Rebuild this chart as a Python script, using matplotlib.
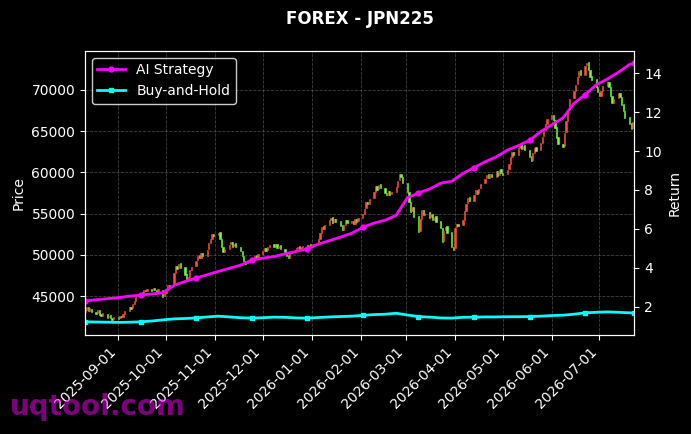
import numpy as np
import pandas as pd
import matplotlib
matplotlib.use("Agg")
import matplotlib.pyplot as plt
import matplotlib.dates as mdates

# daily candles (business days from 2025-08-11)
opens = [
    # Aug
    43050, 43300, 43650, 43200, 43480, 43100, 42950, 43250, 42800, 42580, 42850, 42400, 42650, 42350, 42200,
    # Sep
    42450, 42280, 42600, 42450, 42880, 43220, 43660, 43520, 44080, 44400, 44950, 45460, 45300, 45780, 45620,
    45860, 45680, 45950, 45740, 45500, 45780, 44950,
    # Oct
    45400, 45850, 46350, 46300, 47850, 48650, 48350, 48950, 48500, 47650, 46950, 47350, 48150, 48600, 49350,
    49950, 49650, 50250, 49850, 50650, 51450, 51950, 52550,
    # Nov
    52350, 52750, 51950, 50950, 50350, 50750, 51250, 51550, 51050, 51400, 50950, 50450, 49850, 49250, 48950,
    49350, 49150, 49650, 49950, 49550,
    # Dec
    50150, 50450, 50850, 50550, 50950, 51250, 51050, 51350, 50850, 51150, 50750, 50350, 49950, 49650, 50250,
    50550, 50850, 51050, 50750, 50950, 51150, 50950, 51250,
    # Jan
    51000, 51150, 51350, 51950, 52650, 53450, 53150, 53650, 54250, 54550, 53950, 54350, 54050, 53550, 53050,
    53650, 54250, 53850, 54150, 53750, 54350, 54050,
    # Feb
    54450, 54950, 55650, 56450, 56150, 56850, 57650, 58350, 57950, 58550, 58150, 57550, 57250, 57750, 57350,
    57650, 58250, 59050, 59850, 59450,
    # Mar
    58650, 57650, 56450, 55250, 55850, 54650, 52850, 54350, 55450, 54850, 55150, 54550, 54950, 54250, 54650,
    54050, 53250, 51650, 52950, 53450, 52750, 50950,
    # Apr
    50800, 53350, 53750, 53550, 54250, 55350, 56250, 56950, 56550, 57350, 57850, 57450, 58050, 58650, 59250,
    59750, 59350, 59850, 59450, 60150, 59650, 60350,
    # May
    59950, 59750, 60350, 61050, 61850, 62450, 62150, 62950, 63450, 62850, 63250, 62750, 61950, 61450, 62350,
    63050, 62650, 63550, 64350, 65150, 65850,
    # Jun
    66450, 66950, 66350, 65450, 64250, 63450, 63150, 64850, 66250, 67650, 68950, 69850, 70650, 71550, 72350,
    71850, 72950, 73350, 72450, 71650, 71250, 70350,
    # Jul
    69750, 69250, 69850, 70450, 70950, 70350, 69250, 68450, 68950, 69650, 69150, 68250, 67450, 66650, 65950,
    65350, 66150,
]
closes = [
    # Aug
    43350, 43720, 43180, 43560, 43040, 42880, 43310, 42760, 42550, 42900, 42380, 42620, 42310, 42150, 42480,
    # Sep
    42240, 42580, 42420, 42850, 43180, 43620, 43480, 44050, 44380, 44900, 45420, 45280, 45750, 45600, 45880,
    45650, 45930, 45720, 45480, 45810, 44900, 45350,
    # Oct
    45800, 46300, 46150, 47800, 48600, 48300, 48900, 48450, 47600, 46900, 47300, 48100, 48500, 49300, 49900,
    49600, 50200, 49800, 50600, 51400, 51900, 52500, 52300,
    # Nov
    52700, 51900, 50900, 50300, 50700, 51200, 51500, 51000, 51350, 50900, 50400, 49800, 49200, 48900, 49300,
    49100, 49600, 49900, 49500, 50100,
    # Dec
    50400, 50800, 50500, 50900, 51200, 51000, 51300, 50800, 51100, 50700, 50300, 49900, 49600, 50200, 50500,
    50800, 51000, 50700, 50900, 51100, 50900, 51200, 51000,
    # Jan
    51100, 51300, 51900, 52600, 53400, 53100, 53600, 54200, 54500, 53900, 54300, 54000, 53500, 53000, 53600,
    54200, 53800, 54100, 53700, 54300, 54000, 54400,
    # Feb
    54900, 55600, 56400, 56100, 56800, 57600, 58300, 57900, 58500, 58100, 57500, 57200, 57700, 57300, 57600,
    58200, 59000, 59800, 59400, 58700,
    # Mar
    57600, 56400, 55200, 55800, 54600, 52800, 54300, 55400, 54800, 55100, 54500, 54900, 54200, 54600, 54000,
    53200, 51600, 52900, 53400, 52700, 50900, 50600,
    # Apr
    53300, 53700, 53500, 54200, 55300, 56200, 56900, 56500, 57300, 57800, 57400, 58000, 58600, 59200, 59700,
    59300, 59800, 59400, 60100, 59600, 60300, 59900,
    # May
    59700, 60300, 61000, 61800, 62400, 62100, 62900, 63400, 62800, 63200, 62700, 61900, 61400, 62300, 63000,
    62600, 63500, 64300, 65100, 65800, 66400,
    # Jun
    66900, 66300, 65400, 64200, 63400, 63100, 64800, 66200, 67600, 68900, 69800, 70600, 71500, 72300, 71800,
    72900, 73300, 72400, 71600, 71200, 70300, 69700,
    # Jul
    69200, 69800, 70400, 70900, 70300, 69200, 68400, 68900, 69600, 69100, 68200, 67400, 66600, 65900, 65300,
    66100, 66800,
]

# weekly return curves (Mondays from 2025-08-11, plus the last day)
ai_strategy = [
    2.30, 2.36, 2.42, 2.47, 2.55, 2.60, 2.66, 2.72, 3.10, 3.30,
    3.48, 3.65, 3.82, 3.98, 4.14, 4.40, 4.50, 4.58, 4.72, 4.85,
    4.98, 5.22, 5.40, 5.58, 5.78, 6.08, 6.30, 6.45, 6.70, 7.60,
    7.85, 8.05, 8.35, 8.45, 8.85, 9.15, 9.45, 9.70, 10.05, 10.28,
    10.55, 11.00, 11.35, 11.70, 12.45, 12.90, 13.40, 13.70, 14.05, 14.45,
    14.50,
]
buy_hold = [
    1.23, 1.22, 1.21, 1.20, 1.21, 1.23, 1.27, 1.33, 1.38, 1.40,
    1.43, 1.48, 1.52, 1.48, 1.44, 1.42, 1.44, 1.47, 1.46, 1.43,
    1.42, 1.45, 1.48, 1.50, 1.52, 1.56, 1.60, 1.62, 1.67, 1.58,
    1.50, 1.47, 1.43, 1.42, 1.46, 1.47, 1.48, 1.48, 1.49, 1.49,
    1.50, 1.52, 1.55, 1.57, 1.62, 1.69, 1.72, 1.74, 1.72, 1.69,
    1.68,
]

dates = pd.bdate_range("2025-08-11", periods=len(closes))
line_dates = list(pd.date_range("2025-08-11", periods=50, freq="7D")) + [pd.Timestamp("2026-07-23")]

o = np.array(opens, dtype=float)
c = np.array(closes, dtype=float)
up = c >= o
colors = np.where(up, "#ff5038", "#70ff3a")

plt.style.use("dark_background")
fig = plt.figure(figsize=(6.91, 4.34), dpi=100)
ax = fig.add_axes([0.123, 0.228, 0.795, 0.655])

ax.bar(dates, c - o, bottom=o, width=0.8, color=colors, edgecolor=colors, linewidth=0.4)
ax.set_ylim(40270, 74730)
ax.set_xlim(dates[0], dates[-1])
ax.set_ylabel("Price", fontsize=10)
ax.grid(True, linestyle="--", color="gray", alpha=0.5, linewidth=0.6)

ax.xaxis.set_major_locator(mdates.MonthLocator(bymonthday=1))
ax.xaxis.set_major_formatter(mdates.DateFormatter("%Y-%m-%d"))
plt.setp(ax.get_xticklabels(), rotation=45, ha="right")

ax2 = ax.twinx()
ax2.plot(line_dates, ai_strategy, color="#ff00ff", lw=2, marker="o", ms=3.5, markevery=5, label="AI Strategy")
ax2.plot(line_dates, buy_hold, color="#00ffff", lw=2, marker="s", ms=3.5, markevery=5, label="Buy-and-Hold")
ax2.set_ylim(0.55, 15.15)
ax2.set_ylabel("Return", fontsize=10)
ax2.set_xlim(dates[0], dates[-1])

leg = ax2.legend(loc="upper left", facecolor="black", edgecolor="white", fontsize=10)

ax.set_title("FOREX - JPN225", fontsize=12, fontweight="bold", pad=19)

fig.text(0.014, 0.044, "uqtool.com", fontsize=20, fontweight="bold", color="#ff00ff", alpha=0.5, va="baseline")

fig.savefig("out.png", dpi=100, facecolor="black")
